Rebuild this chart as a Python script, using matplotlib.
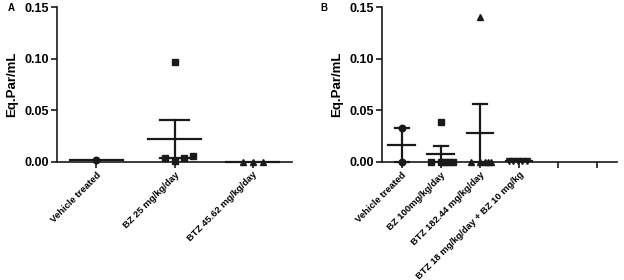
import matplotlib
matplotlib.use("Agg")
import matplotlib.pyplot as plt

plt.rcParams['font.family'] = ['Liberation Sans', 'DejaVu Sans']
plt.rcParams['font.weight'] = 'bold'

# ---- Panel A data ----
a_categories = ["Vehicle treated", "BZ 25 mg/kg/day", "BTZ 45.62 mg/kg/day"]
a_markers = ["o", "s", "^"]
a_values = [
    [0.002],
    [0.097, 0.004, 0.001, 0.004, 0.006],
    [0.0, 0.0, 0.0],
]
a_offsets = [
    [0.0],
    [0.0, -0.12, 0.0, 0.12, 0.24],
    [-0.12, 0.0, 0.13],
]
a_means = [0.002, 0.0224, 0.0]
a_sems = [0.0, 0.0187, 0.0]

# ---- Panel B data ----
b_categories = ["Vehicle treated", "BZ 100mg/kg/day", "BTZ 182.44 mg/kg/day",
                "BTZ 18 mg/kg/day + BZ 10 mg/kg", "", ""]
b_markers = ["o", "s", "^", "v", "o", "o"]
b_values = [
    [0.033, 0.0],
    [0.039, 0.0, 0.0, 0.0, 0.0, 0.0],
    [0.14, 0.0, 0.0, 0.0, 0.0, 0.0],
    [0.001, 0.001, 0.001, 0.001, 0.001],
    [],
    [],
]
b_offsets = [
    [0.0, 0.0],
    [0.0, -0.24, 0.0, 0.12, 0.22, 0.32],
    [0.0, -0.24, 0.0, 0.12, 0.21, 0.28],
    [-0.26, -0.15, -0.03, 0.08, 0.2],
    [],
    [],
]
b_means = [0.0165, 0.0078, 0.028, 0.001, None, None]
b_sems = [0.0165, 0.0078, 0.028, 0.0, None, None]

yticks = [0.0, 0.05, 0.10, 0.15]
ytick_labels = ["0.00", "0.05", "0.10", "0.15"]

fig = plt.figure(figsize=(6.24, 2.8), dpi=100)
axA = fig.add_axes([57/624, 1-162/280, (292-57)/624, (162-7)/280])
axB = fig.add_axes([382/624, 1-162/280, (617-382)/624, (162-7)/280])


def draw(ax, cats, markers, values, offsets, means, sems):
    mean_hw = 0.34
    cap_hw = 0.18
    for i, (vals, offs, m) in enumerate(zip(values, offsets, markers)):
        if means[i] is not None:
            ax.plot([i - mean_hw, i + mean_hw], [means[i], means[i]],
                    color='#1a1a1a', lw=1.6, clip_on=False, zorder=3)
            if sems[i]:
                lo = means[i] - sems[i]
                hi = means[i] + sems[i]
                ax.plot([i, i], [lo, hi], color='#1a1a1a', lw=1.6,
                        clip_on=False, zorder=3)
                ax.plot([i - cap_hw, i + cap_hw], [hi, hi], color='#1a1a1a',
                        lw=1.6, clip_on=False, zorder=3)
                ax.plot([i - cap_hw, i + cap_hw], [lo, lo], color='#1a1a1a',
                        lw=1.6, clip_on=False, zorder=3)
        for v, o in zip(vals, offs):
            ax.plot(i + o, v, marker=m, color='#1a1a1a', markersize=4.7,
                    linestyle='none', clip_on=False, zorder=4)
    ax.set_xlim(-0.5, len(cats) - 0.5)
    ax.set_ylim(0, 0.15)
    ax.set_yticks(yticks)
    ax.set_yticklabels(ytick_labels, fontsize=9, fontweight='bold')
    ax.set_xticks(range(len(cats)))
    ax.set_xticklabels(cats, rotation=45, ha='right', rotation_mode='anchor',
                       fontsize=6.8, fontweight='bold')
    for s in ['top', 'right']:
        ax.spines[s].set_visible(False)
    for s in ['left', 'bottom']:
        ax.spines[s].set_linewidth(1.2)
        ax.spines[s].set_color('#1a1a1a')
    ax.tick_params(axis='both', width=1.2, length=4, color='#1a1a1a')
    ax.tick_params(axis='y', pad=1.5)
    ax.tick_params(axis='x', pad=2)
    ax.set_ylabel("Eq.Par/mL", fontsize=9.5, fontweight='bold')
    ax.yaxis.set_label_coords(-39/235, 0.5)


draw(axA, a_categories, a_markers, a_values, a_offsets, a_means, a_sems)
draw(axB, b_categories, b_markers, b_values, b_offsets, b_means, b_sems)

fig.text(8/624, 1-8/280, "A", fontsize=7, fontweight='bold', va='center', ha='left')
fig.text(320/624, 1-8/280, "B", fontsize=7, fontweight='bold', va='center', ha='left')

fig.savefig("out.png", dpi=100)
